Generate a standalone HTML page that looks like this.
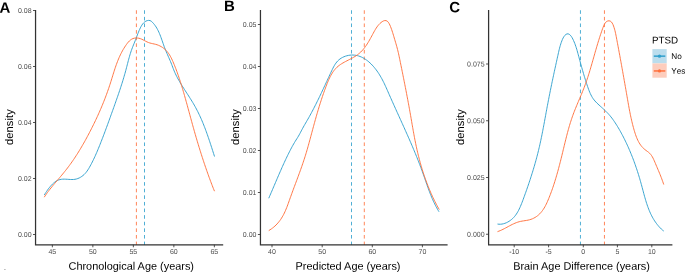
<!DOCTYPE html>
<html lang="en"><head><meta charset="utf-8"><title>Density plots</title>
<style>
html,body{margin:0;padding:0;background:#fff;}
body{width:685px;height:272px;overflow:hidden;}
svg{display:block;text-rendering:geometricPrecision;font-family:"Liberation Sans", Arial, Helvetica, sans-serif;}
.tick{fill:#4D4D4D;font-size:7px;}
.xtick{fill:#4D4D4D;font-size:7px;}
.title{fill:#000;font-size:10.92px;}
.lab{fill:#000;font-size:15px;font-weight:bold;}
.leg{fill:#000;font-size:8.2px;font-kerning:none;}
.legt{fill:#000;font-size:9.8px;}
.curve{fill:none;stroke-width:0.95;stroke-linejoin:round;}
.vl{fill:none;stroke-width:0.85;stroke-dasharray:3.6 3.01;}
.ax{stroke:#333333;stroke-width:1.25;fill:none;}
.tk{stroke:#333333;stroke-width:0.85;fill:none;}
#wrap{width:685px;height:272px;will-change:transform;background:#fff;}
</style></head><body><div id="wrap">
<svg width="685" height="272" viewBox="0 0 685 272">
<rect x="0" y="0" width="685" height="272" fill="#ffffff"/>
<g id="panel-A">
<line class="vl" x1="136.4" y1="10.25" x2="136.4" y2="245" stroke="#FF703C"/>
<line class="vl" x1="144.5" y1="10.25" x2="144.5" y2="245" stroke="#30A0CD"/>
<path class="curve" stroke="#30A0CD" d="M44.25,195.01 L45.01,193.85 L45.80,192.65 L46.62,191.41 L47.48,190.16 L48.38,188.90 L49.33,187.65 L50.32,186.44 L51.35,185.26 L52.42,184.15 L53.55,183.11 L54.72,182.16 L55.93,181.32 L57.20,180.59 L58.51,180.01 L59.88,179.58 L61.30,179.31 L62.76,179.17 L64.25,179.15 L65.77,179.20 L67.31,179.29 L68.86,179.40 L70.41,179.49 L71.95,179.52 L73.47,179.47 L74.96,179.30 L76.42,178.99 L77.84,178.54 L79.21,177.96 L80.52,177.26 L81.78,176.45 L82.98,175.54 L84.11,174.55 L85.16,173.47 L86.13,172.33 L87.04,171.13 L87.89,169.89 L88.69,168.61 L89.46,167.30 L90.20,165.98 L90.92,164.66 L91.62,163.32 L92.31,161.99 L92.98,160.64 L93.63,159.29 L94.27,157.94 L94.90,156.58 L95.52,155.21 L96.12,153.85 L96.72,152.48 L97.31,151.10 L97.88,149.72 L98.45,148.34 L99.02,146.96 L99.58,145.58 L100.13,144.19 L100.68,142.80 L101.23,141.41 L101.77,140.02 L102.31,138.63 L102.85,137.23 L103.38,135.83 L103.91,134.44 L104.44,133.04 L104.97,131.64 L105.49,130.23 L106.01,128.83 L106.53,127.42 L107.05,126.02 L107.57,124.61 L108.08,123.20 L108.59,121.79 L109.11,120.38 L109.62,118.97 L110.13,117.55 L110.64,116.14 L111.14,114.72 L111.65,113.31 L112.16,111.89 L112.67,110.47 L113.18,109.05 L113.69,107.63 L114.19,106.21 L114.70,104.79 L115.21,103.37 L115.71,101.95 L116.21,100.52 L116.71,99.10 L117.21,97.68 L117.70,96.25 L118.19,94.83 L118.68,93.40 L119.16,91.97 L119.64,90.55 L120.12,89.12 L120.59,87.69 L121.05,86.27 L121.51,84.84 L121.97,83.41 L122.42,81.98 L122.86,80.55 L123.29,79.13 L123.72,77.70 L124.14,76.27 L124.56,74.84 L124.97,73.41 L125.36,71.98 L125.75,70.56 L126.13,69.13 L126.51,67.70 L126.88,66.27 L127.24,64.85 L127.61,63.42 L127.98,61.99 L128.35,60.57 L128.73,59.14 L129.13,57.72 L129.53,56.29 L129.95,54.87 L130.39,53.44 L130.84,52.02 L131.32,50.60 L131.83,49.17 L132.36,47.75 L132.92,46.33 L133.49,44.91 L134.08,43.49 L134.65,42.07 L135.22,40.65 L135.77,39.23 L136.30,37.81 L136.83,36.39 L137.36,34.98 L137.90,33.56 L138.47,32.14 L139.05,30.73 L139.68,29.31 L140.34,27.90 L141.06,26.51 L141.84,25.18 L142.71,23.94 L143.66,22.83 L144.73,21.88 L145.91,21.13 L147.23,20.62 L148.65,20.39 L150.06,20.57 L151.31,21.25 L152.42,22.27 L153.43,23.38 L154.38,24.54 L155.26,25.73 L156.08,26.95 L156.85,28.21 L157.56,29.50 L158.23,30.81 L158.86,32.15 L159.45,33.51 L160.02,34.89 L160.56,36.28 L161.08,37.69 L161.59,39.11 L162.09,40.54 L162.59,41.97 L163.08,43.41 L163.59,44.85 L164.10,46.29 L164.64,47.72 L165.19,49.14 L165.77,50.56 L166.36,51.97 L166.96,53.38 L167.56,54.77 L168.17,56.17 L168.78,57.55 L169.38,58.93 L169.98,60.30 L170.55,61.67 L171.11,63.03 L171.65,64.39 L172.17,65.74 L172.67,67.09 L173.18,68.43 L173.70,69.77 L174.24,71.10 L174.81,72.44 L175.41,73.76 L176.05,75.09 L176.71,76.41 L177.40,77.72 L178.12,79.04 L178.86,80.35 L179.61,81.66 L180.39,82.97 L181.18,84.28 L181.98,85.58 L182.80,86.88 L183.63,88.18 L184.46,89.49 L185.30,90.79 L186.14,92.08 L186.98,93.38 L187.82,94.68 L188.66,95.98 L189.49,97.28 L190.32,98.58 L191.13,99.88 L191.94,101.18 L192.73,102.49 L193.50,103.79 L194.26,105.09 L194.99,106.40 L195.71,107.71 L196.42,109.02 L197.10,110.34 L197.77,111.65 L198.43,112.97 L199.07,114.30 L199.70,115.62 L200.31,116.95 L200.91,118.29 L201.50,119.62 L202.08,120.96 L202.64,122.31 L203.20,123.66 L203.74,125.02 L204.28,126.38 L204.81,127.74 L205.33,129.12 L205.84,130.49 L206.35,131.88 L206.85,133.26 L207.35,134.66 L207.84,136.06 L208.32,137.47 L208.81,138.89 L209.29,140.31 L209.76,141.74 L210.24,143.18 L210.71,144.63 L211.19,146.08 L211.66,147.54 L212.14,149.02 L212.61,150.50 L213.09,151.99 L213.57,153.48 L214.06,154.99 L214.50,156.51"/>
<path class="curve" stroke="#FF703C" d="M44.25,197.19 L44.98,196.05 L45.75,194.91 L46.55,193.77 L47.37,192.62 L48.23,191.47 L49.10,190.32 L50.01,189.17 L50.93,188.01 L51.87,186.86 L52.82,185.70 L53.79,184.53 L54.77,183.37 L55.76,182.20 L56.76,181.03 L57.76,179.86 L58.76,178.68 L59.76,177.50 L60.77,176.32 L61.76,175.14 L62.75,173.95 L63.73,172.76 L64.70,171.56 L65.66,170.37 L66.60,169.17 L67.52,167.96 L68.44,166.76 L69.34,165.55 L70.23,164.33 L71.10,163.11 L71.97,161.89 L72.82,160.67 L73.66,159.44 L74.49,158.21 L75.31,156.97 L76.12,155.73 L76.92,154.49 L77.71,153.24 L78.49,151.99 L79.26,150.74 L80.03,149.48 L80.79,148.21 L81.53,146.94 L82.28,145.67 L83.01,144.39 L83.74,143.11 L84.47,141.83 L85.19,140.54 L85.90,139.24 L86.61,137.94 L87.31,136.64 L88.01,135.33 L88.71,134.02 L89.40,132.70 L90.09,131.38 L90.77,130.05 L91.45,128.72 L92.12,127.38 L92.79,126.04 L93.46,124.70 L94.12,123.35 L94.77,122.00 L95.42,120.65 L96.06,119.29 L96.70,117.92 L97.33,116.56 L97.96,115.19 L98.58,113.81 L99.19,112.44 L99.80,111.06 L100.40,109.67 L101.00,108.29 L101.59,106.90 L102.17,105.51 L102.74,104.11 L103.31,102.72 L103.87,101.31 L104.43,99.91 L104.97,98.51 L105.51,97.10 L106.04,95.69 L106.57,94.28 L107.08,92.86 L107.59,91.45 L108.09,90.03 L108.58,88.61 L109.07,87.18 L109.54,85.76 L110.01,84.33 L110.47,82.91 L110.92,81.48 L111.36,80.05 L111.81,78.62 L112.25,77.19 L112.69,75.77 L113.13,74.34 L113.58,72.92 L114.03,71.50 L114.48,70.08 L114.95,68.67 L115.42,67.26 L115.90,65.86 L116.40,64.46 L116.91,63.07 L117.44,61.69 L117.98,60.31 L118.54,58.94 L119.12,57.58 L119.73,56.22 L120.36,54.88 L121.01,53.54 L121.69,52.22 L122.40,50.90 L123.14,49.60 L123.91,48.31 L124.71,47.03 L125.55,45.76 L126.42,44.51 L127.33,43.28 L128.30,42.10 L129.33,41.01 L130.44,40.03 L131.63,39.21 L132.93,38.57 L134.34,38.16 L135.85,37.97 L137.38,38.00 L138.89,38.23 L140.33,38.64 L141.71,39.19 L143.05,39.84 L144.37,40.54 L145.69,41.24 L147.04,41.91 L148.41,42.50 L149.81,42.98 L151.25,43.35 L152.71,43.68 L154.17,43.99 L155.63,44.34 L157.08,44.78 L158.50,45.31 L159.89,45.94 L161.24,46.66 L162.53,47.46 L163.76,48.34 L164.91,49.30 L165.98,50.32 L166.98,51.40 L167.91,52.54 L168.77,53.73 L169.58,54.97 L170.33,56.25 L171.04,57.55 L171.71,58.89 L172.34,60.25 L172.95,61.62 L173.54,63.01 L174.12,64.40 L174.68,65.80 L175.23,67.20 L175.77,68.59 L176.30,70.00 L176.82,71.40 L177.33,72.81 L177.83,74.22 L178.33,75.63 L178.81,77.04 L179.29,78.46 L179.76,79.87 L180.22,81.29 L180.67,82.71 L181.12,84.13 L181.57,85.56 L182.00,86.98 L182.43,88.41 L182.86,89.84 L183.28,91.27 L183.70,92.70 L184.12,94.14 L184.53,95.57 L184.93,97.00 L185.34,98.44 L185.74,99.88 L186.14,101.32 L186.54,102.76 L186.94,104.20 L187.33,105.64 L187.73,107.08 L188.12,108.52 L188.51,109.96 L188.91,111.41 L189.30,112.85 L189.69,114.30 L190.08,115.74 L190.47,117.19 L190.87,118.63 L191.26,120.08 L191.66,121.52 L192.05,122.97 L192.45,124.42 L192.85,125.86 L193.26,127.31 L193.66,128.75 L194.07,130.20 L194.48,131.64 L194.89,133.09 L195.30,134.53 L195.72,135.97 L196.14,137.42 L196.57,138.86 L196.99,140.30 L197.42,141.74 L197.85,143.18 L198.29,144.62 L198.72,146.06 L199.17,147.49 L199.61,148.93 L200.06,150.37 L200.51,151.80 L200.96,153.23 L201.41,154.66 L201.87,156.09 L202.33,157.52 L202.80,158.95 L203.27,160.37 L203.74,161.80 L204.21,163.22 L204.69,164.64 L205.17,166.06 L205.66,167.47 L206.15,168.89 L206.64,170.30 L207.14,171.71 L207.63,173.12 L208.14,174.52 L208.64,175.93 L209.15,177.33 L209.67,178.73 L210.18,180.12 L210.70,181.52 L211.23,182.91 L211.76,184.30 L212.29,185.68 L212.82,187.07 L213.36,188.45 L213.91,189.82 L214.50,191.20"/>
<path class="ax" d="M35.55,10.0 V244.75 H223.2"/>
<line class="tk" x1="33.0" y1="234.5" x2="35.55" y2="234.5"/>
<text class="tick" transform="translate(31.55,237.00) rotate(0.03)" text-anchor="end">0.00</text>
<line class="tk" x1="33.0" y1="178.5" x2="35.55" y2="178.5"/>
<text class="tick" transform="translate(31.55,181.00) rotate(0.03)" text-anchor="end">0.02</text>
<line class="tk" x1="33.0" y1="122.5" x2="35.55" y2="122.5"/>
<text class="tick" transform="translate(31.55,125.00) rotate(0.03)" text-anchor="end">0.04</text>
<line class="tk" x1="33.0" y1="66.5" x2="35.55" y2="66.5"/>
<text class="tick" transform="translate(31.55,69.00) rotate(0.03)" text-anchor="end">0.06</text>
<line class="tk" x1="33.0" y1="10.5" x2="35.55" y2="10.5"/>
<text class="tick" transform="translate(31.55,13.00) rotate(0.03)" text-anchor="end">0.08</text>
<line class="tk" x1="52.35" y1="244.75" x2="52.35" y2="247.3"/>
<text class="xtick" transform="translate(52.35,253.9) rotate(0.03)" text-anchor="middle">45</text>
<line class="tk" x1="92.85" y1="244.75" x2="92.85" y2="247.3"/>
<text class="xtick" transform="translate(92.85,253.9) rotate(0.03)" text-anchor="middle">50</text>
<line class="tk" x1="133.35" y1="244.75" x2="133.35" y2="247.3"/>
<text class="xtick" transform="translate(133.35,253.9) rotate(0.03)" text-anchor="middle">55</text>
<line class="tk" x1="173.85" y1="244.75" x2="173.85" y2="247.3"/>
<text class="xtick" transform="translate(173.85,253.9) rotate(0.03)" text-anchor="middle">60</text>
<line class="tk" x1="214.35" y1="244.75" x2="214.35" y2="247.3"/>
<text class="xtick" transform="translate(214.35,253.9) rotate(0.03)" text-anchor="middle">65</text>
<text class="title" transform="translate(68.50,269.7) rotate(0.03)">Chronological Age (years)</text>
<text class="title" style="font-size:11.1px" transform="translate(12.5,144.9) rotate(-90)" textLength="35.6">density</text>
<text class="lab" transform="translate(-0.5,12.65) rotate(0.03)">A</text>
</g>
<g id="panel-B">
<line class="vl" x1="351.5" y1="10.25" x2="351.5" y2="245" stroke="#30A0CD"/>
<line class="vl" x1="364.3" y1="10.25" x2="364.3" y2="245" stroke="#FF703C"/>
<path class="curve" stroke="#30A0CD" d="M268.75,198.26 L269.36,196.81 L269.99,195.37 L270.61,193.93 L271.23,192.50 L271.85,191.08 L272.46,189.66 L273.06,188.25 L273.66,186.84 L274.26,185.44 L274.86,184.04 L275.45,182.65 L276.04,181.27 L276.63,179.89 L277.22,178.51 L277.80,177.14 L278.39,175.78 L278.98,174.42 L279.57,173.06 L280.16,171.71 L280.75,170.36 L281.34,169.01 L281.93,167.67 L282.53,166.33 L283.13,165.00 L283.74,163.66 L284.35,162.34 L284.96,161.01 L285.58,159.69 L286.21,158.36 L286.84,157.05 L287.48,155.73 L288.13,154.41 L288.78,153.10 L289.44,151.79 L290.11,150.48 L290.79,149.17 L291.48,147.86 L292.18,146.56 L292.90,145.25 L293.65,143.95 L294.41,142.65 L295.21,141.34 L296.03,140.04 L296.85,138.74 L297.66,137.43 L298.45,136.13 L299.19,134.83 L299.90,133.52 L300.59,132.22 L301.27,130.91 L301.96,129.60 L302.66,128.30 L303.38,126.99 L304.12,125.68 L304.87,124.36 L305.64,123.05 L306.41,121.73 L307.17,120.42 L307.93,119.10 L308.69,117.77 L309.43,116.45 L310.16,115.12 L310.89,113.79 L311.60,112.46 L312.31,111.13 L313.02,109.80 L313.71,108.46 L314.40,107.12 L315.09,105.78 L315.76,104.44 L316.43,103.10 L317.10,101.76 L317.76,100.42 L318.42,99.08 L319.07,97.73 L319.72,96.39 L320.36,95.04 L321.00,93.69 L321.64,92.35 L322.28,91.00 L322.91,89.65 L323.54,88.31 L324.17,86.96 L324.79,85.61 L325.42,84.27 L326.04,82.92 L326.66,81.57 L327.29,80.23 L327.91,78.88 L328.53,77.54 L329.16,76.20 L329.78,74.85 L330.41,73.51 L331.03,72.17 L331.66,70.83 L332.30,69.50 L332.94,68.17 L333.62,66.86 L334.33,65.58 L335.09,64.34 L335.91,63.14 L336.79,62.00 L337.76,60.92 L338.81,59.91 L339.96,58.99 L341.21,58.15 L342.54,57.41 L343.94,56.76 L345.40,56.20 L346.89,55.76 L348.41,55.41 L349.94,55.17 L351.46,55.05 L352.95,55.03 L354.43,55.13 L355.88,55.32 L357.30,55.62 L358.70,56.01 L360.07,56.49 L361.42,57.05 L362.73,57.69 L364.02,58.41 L365.28,59.20 L366.52,60.05 L367.72,60.96 L368.89,61.93 L370.03,62.94 L371.13,64.01 L372.21,65.11 L373.25,66.25 L374.26,67.42 L375.23,68.62 L376.17,69.83 L377.07,71.07 L377.94,72.31 L378.77,73.57 L379.57,74.83 L380.33,76.10 L381.07,77.38 L381.79,78.67 L382.48,79.96 L383.15,81.27 L383.80,82.57 L384.43,83.89 L385.06,85.21 L385.67,86.54 L386.27,87.87 L386.87,89.21 L387.46,90.55 L388.05,91.90 L388.64,93.26 L389.24,94.61 L389.84,95.97 L390.44,97.34 L391.05,98.71 L391.66,100.08 L392.27,101.45 L392.89,102.83 L393.51,104.20 L394.13,105.58 L394.75,106.96 L395.37,108.34 L396.00,109.73 L396.62,111.11 L397.25,112.49 L397.88,113.88 L398.50,115.26 L399.13,116.64 L399.75,118.02 L400.38,119.40 L401.01,120.78 L401.63,122.16 L402.25,123.53 L402.87,124.90 L403.49,126.27 L404.11,127.64 L404.72,129.01 L405.34,130.38 L405.95,131.74 L406.56,133.11 L407.17,134.47 L407.77,135.84 L408.37,137.20 L408.97,138.57 L409.57,139.93 L410.17,141.29 L410.76,142.66 L411.35,144.02 L411.93,145.39 L412.52,146.75 L413.10,148.12 L413.67,149.49 L414.25,150.86 L414.82,152.23 L415.38,153.60 L415.94,154.97 L416.50,156.35 L417.06,157.73 L417.61,159.11 L418.15,160.49 L418.70,161.87 L419.23,163.26 L419.77,164.65 L420.29,166.05 L420.82,167.44 L421.34,168.84 L421.85,170.25 L422.36,171.66 L422.87,173.07 L423.37,174.48 L423.86,175.90 L424.36,177.32 L424.85,178.74 L425.34,180.17 L425.83,181.59 L426.33,183.01 L426.83,184.43 L427.33,185.85 L427.84,187.27 L428.35,188.69 L428.87,190.10 L429.40,191.51 L429.93,192.92 L430.48,194.31 L431.04,195.71 L431.61,197.09 L432.19,198.47 L432.79,199.84 L433.41,201.21 L434.04,202.56 L434.69,203.90 L435.35,205.24 L436.04,206.56 L436.75,207.87 L437.48,209.17 L438.23,210.46 L439.00,211.73"/>
<path class="curve" stroke="#FF703C" d="M268.75,230.62 L270.04,229.79 L271.35,228.92 L272.60,228.00 L273.80,227.05 L274.94,226.05 L276.03,225.02 L277.06,223.95 L278.04,222.85 L278.98,221.72 L279.87,220.55 L280.72,219.36 L281.52,218.14 L282.28,216.89 L283.01,215.63 L283.69,214.33 L284.35,213.02 L284.97,211.69 L285.57,210.34 L286.14,208.98 L286.70,207.61 L287.24,206.22 L287.76,204.82 L288.27,203.42 L288.78,202.01 L289.28,200.59 L289.78,199.17 L290.28,197.75 L290.79,196.33 L291.30,194.91 L291.82,193.49 L292.34,192.07 L292.86,190.65 L293.39,189.23 L293.92,187.81 L294.45,186.40 L294.98,184.98 L295.51,183.56 L296.04,182.14 L296.57,180.72 L297.10,179.31 L297.63,177.89 L298.15,176.47 L298.67,175.05 L299.19,173.64 L299.71,172.22 L300.22,170.80 L300.73,169.38 L301.23,167.97 L301.73,166.55 L302.23,165.13 L302.71,163.71 L303.20,162.29 L303.67,160.87 L304.14,159.45 L304.60,158.03 L305.05,156.61 L305.49,155.19 L305.93,153.77 L306.36,152.35 L306.78,150.93 L307.20,149.51 L307.61,148.08 L308.01,146.66 L308.41,145.24 L308.81,143.81 L309.20,142.39 L309.59,140.96 L309.97,139.53 L310.36,138.11 L310.74,136.68 L311.12,135.25 L311.51,133.82 L311.89,132.39 L312.27,130.96 L312.66,129.52 L313.04,128.09 L313.43,126.66 L313.82,125.22 L314.22,123.78 L314.61,122.35 L315.01,120.91 L315.41,119.47 L315.82,118.04 L316.23,116.60 L316.64,115.16 L317.05,113.72 L317.47,112.28 L317.90,110.84 L318.33,109.41 L318.76,107.97 L319.20,106.53 L319.65,105.09 L320.10,103.65 L320.56,102.22 L321.02,100.78 L321.49,99.34 L321.96,97.91 L322.45,96.47 L322.93,95.04 L323.43,93.60 L323.93,92.17 L324.44,90.74 L324.96,89.31 L325.49,87.88 L326.02,86.45 L326.57,85.02 L327.12,83.60 L327.69,82.19 L328.28,80.78 L328.89,79.40 L329.52,78.03 L330.19,76.68 L330.89,75.37 L331.62,74.08 L332.39,72.83 L333.21,71.62 L334.07,70.45 L334.99,69.33 L335.96,68.26 L336.98,67.24 L338.07,66.28 L339.22,65.38 L340.42,64.53 L341.67,63.72 L342.95,62.95 L344.27,62.21 L345.61,61.49 L346.96,60.79 L348.33,60.09 L349.69,59.39 L351.04,58.69 L352.38,57.97 L353.70,57.23 L354.99,56.47 L356.23,55.66 L357.44,54.82 L358.59,53.92 L359.70,52.99 L360.76,52.00 L361.79,50.98 L362.77,49.91 L363.72,48.79 L364.63,47.64 L365.52,46.45 L366.37,45.22 L367.20,43.95 L368.01,42.65 L368.79,41.33 L369.56,40.00 L370.31,38.65 L371.06,37.29 L371.79,35.94 L372.52,34.58 L373.24,33.24 L373.96,31.91 L374.69,30.61 L375.44,29.33 L376.22,28.08 L377.04,26.88 L377.92,25.71 L378.87,24.60 L379.89,23.54 L381.01,22.54 L382.21,21.64 L383.49,20.94 L384.80,20.56 L386.10,20.61 L387.29,21.19 L388.29,22.26 L389.15,23.59 L389.88,25.05 L390.52,26.57 L391.10,28.08 L391.63,29.55 L392.13,31.00 L392.59,32.43 L393.03,33.84 L393.46,35.24 L393.87,36.64 L394.28,38.04 L394.70,39.45 L395.12,40.86 L395.54,42.28 L395.96,43.71 L396.37,45.14 L396.78,46.57 L397.17,48.02 L397.54,49.46 L397.90,50.91 L398.25,52.37 L398.58,53.82 L398.90,55.28 L399.21,56.75 L399.52,58.21 L399.82,59.68 L400.12,61.14 L400.42,62.61 L400.71,64.08 L401.01,65.55 L401.31,67.01 L401.61,68.48 L401.91,69.95 L402.20,71.42 L402.50,72.89 L402.79,74.36 L403.09,75.83 L403.38,77.31 L403.68,78.78 L403.97,80.25 L404.26,81.72 L404.55,83.19 L404.84,84.67 L405.13,86.14 L405.42,87.61 L405.71,89.09 L405.99,90.56 L406.28,92.03 L406.56,93.51 L406.84,94.98 L407.12,96.45 L407.40,97.93 L407.68,99.40 L407.96,100.87 L408.23,102.35 L408.50,103.82 L408.77,105.29 L409.04,106.77 L409.31,108.24 L409.58,109.71 L409.84,111.19 L410.10,112.66 L410.36,114.13 L410.62,115.60 L410.88,117.08 L411.13,118.55 L411.38,120.02 L411.64,121.49 L411.89,122.96 L412.14,124.43 L412.40,125.90 L412.65,127.37 L412.91,128.84 L413.17,130.31 L413.43,131.78 L413.69,133.25 L413.96,134.71 L414.23,136.18 L414.50,137.65 L414.78,139.11 L415.07,140.58 L415.36,142.04 L415.66,143.50 L415.96,144.97 L416.27,146.43 L416.59,147.89 L416.91,149.35 L417.24,150.81 L417.58,152.27 L417.93,153.73 L418.28,155.18 L418.65,156.64 L419.02,158.09 L419.40,159.54 L419.78,160.99 L420.18,162.44 L420.58,163.89 L421.00,165.33 L421.42,166.77 L421.84,168.21 L422.28,169.64 L422.73,171.08 L423.18,172.50 L423.65,173.93 L424.12,175.35 L424.61,176.77 L425.10,178.19 L425.60,179.60 L426.11,181.01 L426.63,182.42 L427.16,183.82 L427.70,185.22 L428.25,186.61 L428.81,188.00 L429.38,189.38 L429.96,190.76 L430.55,192.14 L431.15,193.51 L431.76,194.87 L432.38,196.23 L433.01,197.58 L433.66,198.93 L434.31,200.28 L434.97,201.61 L435.65,202.95 L436.34,204.27 L437.03,205.59 L437.74,206.91 L438.46,208.21 L439.25,209.51"/>
<path class="ax" d="M260.45,10.0 V244.75 H447.6"/>
<line class="tk" x1="257.9" y1="234.5" x2="260.45" y2="234.5"/>
<text class="tick" transform="translate(256.45,237.00) rotate(0.03)" text-anchor="end">0.00</text>
<line class="tk" x1="257.9" y1="192.5" x2="260.45" y2="192.5"/>
<text class="tick" transform="translate(256.45,195.00) rotate(0.03)" text-anchor="end">0.01</text>
<line class="tk" x1="257.9" y1="150.5" x2="260.45" y2="150.5"/>
<text class="tick" transform="translate(256.45,153.00) rotate(0.03)" text-anchor="end">0.02</text>
<line class="tk" x1="257.9" y1="108.5" x2="260.45" y2="108.5"/>
<text class="tick" transform="translate(256.45,111.00) rotate(0.03)" text-anchor="end">0.03</text>
<line class="tk" x1="257.9" y1="66.5" x2="260.45" y2="66.5"/>
<text class="tick" transform="translate(256.45,69.00) rotate(0.03)" text-anchor="end">0.04</text>
<line class="tk" x1="257.9" y1="24.5" x2="260.45" y2="24.5"/>
<text class="tick" transform="translate(256.45,27.00) rotate(0.03)" text-anchor="end">0.05</text>
<line class="tk" x1="272" y1="244.75" x2="272" y2="247.3"/>
<text class="xtick" transform="translate(272,253.9) rotate(0.03)" text-anchor="middle">40</text>
<line class="tk" x1="322.2" y1="244.75" x2="322.2" y2="247.3"/>
<text class="xtick" transform="translate(322.2,253.9) rotate(0.03)" text-anchor="middle">50</text>
<line class="tk" x1="372.3" y1="244.75" x2="372.3" y2="247.3"/>
<text class="xtick" transform="translate(372.3,253.9) rotate(0.03)" text-anchor="middle">60</text>
<line class="tk" x1="422.4" y1="244.75" x2="422.4" y2="247.3"/>
<text class="xtick" transform="translate(422.4,253.9) rotate(0.03)" text-anchor="middle">70</text>
<text class="title" transform="translate(295.60,269.7) rotate(0.03)">Predicted Age (years)</text>
<text class="title" style="font-size:11.1px" transform="translate(238.6,144.9) rotate(-90)" textLength="35.6">density</text>
<text class="lab" transform="translate(223.9,10.9) rotate(0.03)">B</text>
</g>
<g id="panel-C">
<line class="vl" x1="580.45" y1="10.25" x2="580.45" y2="245" stroke="#30A0CD"/>
<line class="vl" x1="604.45" y1="10.25" x2="604.45" y2="245" stroke="#FF703C"/>
<path class="curve" stroke="#30A0CD" d="M497.50,224.06 L498.99,224.23 L500.48,224.23 L501.97,224.07 L503.45,223.76 L504.90,223.32 L506.32,222.75 L507.71,222.08 L509.04,221.30 L510.31,220.44 L511.52,219.51 L512.65,218.52 L513.69,217.47 L514.66,216.38 L515.56,215.25 L516.39,214.07 L517.17,212.86 L517.89,211.61 L518.58,210.34 L519.23,209.03 L519.85,207.70 L520.44,206.35 L521.02,204.98 L521.59,203.59 L522.14,202.19 L522.68,200.77 L523.21,199.36 L523.73,197.93 L524.25,196.51 L524.76,195.09 L525.28,193.66 L525.79,192.23 L526.29,190.81 L526.79,189.38 L527.29,187.95 L527.78,186.52 L528.27,185.10 L528.76,183.67 L529.24,182.24 L529.72,180.80 L530.19,179.37 L530.65,177.94 L531.12,176.51 L531.57,175.07 L532.03,173.64 L532.47,172.21 L532.91,170.77 L533.35,169.33 L533.78,167.90 L534.21,166.46 L534.63,165.02 L535.04,163.58 L535.45,162.14 L535.85,160.70 L536.24,159.26 L536.63,157.81 L537.01,156.37 L537.39,154.93 L537.76,153.48 L538.12,152.04 L538.48,150.59 L538.82,149.14 L539.17,147.70 L539.50,146.25 L539.83,144.80 L540.15,143.35 L540.47,141.89 L540.78,140.44 L541.09,138.99 L541.39,137.53 L541.69,136.08 L541.98,134.62 L542.27,133.17 L542.56,131.71 L542.84,130.25 L543.12,128.79 L543.40,127.33 L543.67,125.87 L543.95,124.41 L544.22,122.94 L544.49,121.48 L544.76,120.01 L545.03,118.55 L545.30,117.08 L545.57,115.61 L545.84,114.14 L546.10,112.67 L546.38,111.20 L546.65,109.73 L546.92,108.25 L547.20,106.78 L547.47,105.30 L547.75,103.83 L548.04,102.35 L548.32,100.87 L548.61,99.39 L548.90,97.91 L549.19,96.43 L549.48,94.95 L549.78,93.47 L550.07,91.99 L550.37,90.51 L550.67,89.03 L550.98,87.55 L551.28,86.07 L551.59,84.59 L551.89,83.12 L552.20,81.64 L552.51,80.17 L552.82,78.69 L553.13,77.22 L553.45,75.75 L553.76,74.28 L554.07,72.81 L554.39,71.35 L554.70,69.88 L555.02,68.42 L555.34,66.97 L555.66,65.51 L555.97,64.06 L556.29,62.61 L556.61,61.16 L556.93,59.71 L557.24,58.27 L557.56,56.83 L557.88,55.40 L558.20,53.97 L558.52,52.54 L558.84,51.12 L559.18,49.69 L559.53,48.25 L559.91,46.81 L560.33,45.36 L560.78,43.89 L561.29,42.41 L561.84,40.90 L562.46,39.39 L563.15,37.93 L563.94,36.59 L564.83,35.42 L565.84,34.49 L566.97,33.90 L568.15,33.85 L569.29,34.35 L570.32,35.21 L571.25,36.33 L572.09,37.65 L572.85,39.08 L573.54,40.54 L574.18,42.00 L574.77,43.45 L575.31,44.89 L575.81,46.32 L576.28,47.75 L576.72,49.18 L577.14,50.60 L577.54,52.03 L577.92,53.45 L578.31,54.87 L578.69,56.29 L579.07,57.71 L579.45,59.13 L579.84,60.55 L580.22,61.97 L580.61,63.40 L581.00,64.82 L581.40,66.25 L581.80,67.68 L582.20,69.11 L582.61,70.54 L583.02,71.98 L583.44,73.41 L583.87,74.85 L584.30,76.29 L584.74,77.73 L585.19,79.17 L585.65,80.62 L586.11,82.07 L586.59,83.52 L587.07,84.97 L587.57,86.43 L588.07,87.89 L588.60,89.34 L589.14,90.78 L589.71,92.20 L590.32,93.60 L590.97,94.96 L591.66,96.28 L592.40,97.54 L593.20,98.75 L594.06,99.90 L594.97,100.99 L595.94,102.05 L596.94,103.07 L597.99,104.06 L599.06,105.05 L600.16,106.04 L601.28,107.04 L602.40,108.06 L603.53,109.09 L604.66,110.15 L605.78,111.23 L606.87,112.32 L607.94,113.43 L608.98,114.56 L609.97,115.70 L610.92,116.87 L611.84,118.04 L612.72,119.23 L613.58,120.44 L614.42,121.65 L615.23,122.89 L616.04,124.13 L616.83,125.38 L617.60,126.65 L618.37,127.92 L619.13,129.21 L619.87,130.50 L620.60,131.81 L621.32,133.12 L622.03,134.44 L622.73,135.76 L623.41,137.09 L624.09,138.43 L624.76,139.77 L625.41,141.11 L626.06,142.46 L626.69,143.81 L627.32,145.17 L627.94,146.53 L628.55,147.89 L629.15,149.26 L629.73,150.63 L630.31,152.00 L630.89,153.38 L631.45,154.76 L632.00,156.15 L632.55,157.54 L633.08,158.93 L633.61,160.32 L634.13,161.72 L634.64,163.13 L635.14,164.53 L635.64,165.94 L636.12,167.35 L636.60,168.77 L637.08,170.19 L637.54,171.62 L638.00,173.05 L638.44,174.48 L638.89,175.91 L639.32,177.35 L639.75,178.79 L640.17,180.24 L640.58,181.69 L640.99,183.14 L641.39,184.60 L641.79,186.06 L642.18,187.52 L642.57,188.99 L642.96,190.45 L643.35,191.91 L643.74,193.38 L644.13,194.84 L644.53,196.29 L644.94,197.75 L645.36,199.19 L645.79,200.63 L646.23,202.07 L646.69,203.50 L647.16,204.91 L647.65,206.32 L648.16,207.72 L648.69,209.11 L649.24,210.48 L649.81,211.84 L650.41,213.19 L651.04,214.52 L651.70,215.83 L652.38,217.13 L653.10,218.41 L653.85,219.67 L654.64,220.91 L655.47,222.14 L656.33,223.34 L657.23,224.51 L658.18,225.67 L659.17,226.80 L660.20,227.90 L661.28,228.98 L662.41,230.03 L663.75,231.05"/>
<path class="curve" stroke="#FF703C" d="M497.50,231.67 L498.87,231.17 L500.25,230.60 L501.62,229.99 L502.97,229.34 L504.30,228.66 L505.63,227.96 L506.96,227.25 L508.28,226.53 L509.60,225.82 L510.93,225.12 L512.26,224.44 L513.61,223.80 L514.97,223.20 L516.34,222.65 L517.74,222.16 L519.16,221.73 L520.61,221.38 L522.08,221.10 L523.57,220.87 L525.06,220.64 L526.56,220.41 L528.05,220.13 L529.52,219.78 L530.97,219.34 L532.38,218.80 L533.76,218.16 L535.08,217.44 L536.35,216.64 L537.55,215.76 L538.67,214.82 L539.73,213.82 L540.73,212.76 L541.66,211.64 L542.54,210.48 L543.37,209.28 L544.16,208.04 L544.90,206.76 L545.60,205.45 L546.27,204.12 L546.91,202.76 L547.52,201.39 L548.12,200.00 L548.70,198.61 L549.26,197.21 L549.82,195.81 L550.36,194.40 L550.89,192.99 L551.42,191.57 L551.93,190.16 L552.43,188.73 L552.92,187.31 L553.40,185.88 L553.87,184.45 L554.33,183.01 L554.79,181.58 L555.23,180.14 L555.67,178.70 L556.10,177.25 L556.53,175.81 L556.94,174.36 L557.35,172.91 L557.76,171.47 L558.16,170.02 L558.55,168.56 L558.93,167.11 L559.32,165.66 L559.69,164.21 L560.07,162.75 L560.44,161.30 L560.80,159.85 L561.16,158.40 L561.52,156.95 L561.88,155.50 L562.23,154.05 L562.58,152.60 L562.93,151.15 L563.28,149.70 L563.63,148.26 L563.98,146.82 L564.32,145.38 L564.67,143.94 L565.02,142.50 L565.37,141.07 L565.72,139.63 L566.08,138.20 L566.44,136.77 L566.81,135.34 L567.18,133.91 L567.56,132.49 L567.94,131.06 L568.33,129.64 L568.73,128.22 L569.14,126.80 L569.55,125.38 L569.98,123.96 L570.42,122.55 L570.87,121.13 L571.33,119.72 L571.80,118.30 L572.29,116.89 L572.79,115.48 L573.31,114.07 L573.84,112.66 L574.38,111.25 L574.94,109.85 L575.50,108.44 L576.08,107.03 L576.65,105.63 L577.24,104.22 L577.83,102.82 L578.42,101.42 L579.02,100.02 L579.61,98.61 L580.20,97.21 L580.79,95.81 L581.38,94.41 L581.96,93.01 L582.53,91.61 L583.09,90.21 L583.65,88.82 L584.19,87.42 L584.72,86.02 L585.23,84.62 L585.74,83.22 L586.23,81.83 L586.72,80.43 L587.19,79.03 L587.66,77.63 L588.11,76.23 L588.56,74.83 L589.00,73.43 L589.43,72.03 L589.86,70.62 L590.29,69.22 L590.70,67.81 L591.12,66.40 L591.53,64.99 L591.93,63.58 L592.34,62.17 L592.74,60.75 L593.15,59.33 L593.55,57.91 L593.95,56.49 L594.36,55.06 L594.76,53.63 L595.17,52.20 L595.59,50.76 L596.00,49.33 L596.42,47.89 L596.84,46.44 L597.27,44.99 L597.71,43.54 L598.15,42.08 L598.61,40.62 L599.06,39.16 L599.53,37.69 L600.01,36.21 L600.50,34.74 L600.99,33.25 L601.50,31.77 L602.03,30.27 L602.56,28.78 L603.11,27.28 L603.69,25.82 L604.33,24.45 L605.04,23.22 L605.84,22.19 L606.77,21.41 L607.84,20.93 L609.06,20.80 L610.27,21.11 L611.32,21.89 L612.20,23.05 L612.94,24.47 L613.56,26.03 L614.09,27.61 L614.56,29.15 L614.96,30.66 L615.32,32.15 L615.64,33.61 L615.94,35.07 L616.22,36.51 L616.49,37.96 L616.76,39.40 L617.04,40.85 L617.31,42.30 L617.58,43.76 L617.85,45.21 L618.13,46.67 L618.40,48.13 L618.67,49.59 L618.94,51.05 L619.21,52.51 L619.48,53.98 L619.75,55.44 L620.02,56.91 L620.29,58.38 L620.56,59.85 L620.83,61.32 L621.09,62.79 L621.36,64.26 L621.63,65.74 L621.89,67.21 L622.16,68.69 L622.42,70.16 L622.69,71.64 L622.95,73.11 L623.21,74.59 L623.48,76.07 L623.74,77.55 L624.00,79.03 L624.26,80.50 L624.52,81.98 L624.78,83.46 L625.04,84.94 L625.30,86.41 L625.56,87.89 L625.82,89.37 L626.07,90.84 L626.33,92.32 L626.59,93.79 L626.84,95.27 L627.09,96.74 L627.35,98.22 L627.60,99.69 L627.86,101.16 L628.11,102.63 L628.37,104.10 L628.63,105.57 L628.90,107.03 L629.17,108.50 L629.44,109.96 L629.72,111.43 L630.01,112.89 L630.30,114.35 L630.61,115.81 L630.92,117.27 L631.24,118.73 L631.57,120.18 L631.90,121.64 L632.26,123.09 L632.62,124.54 L632.99,125.99 L633.38,127.44 L633.78,128.88 L634.20,130.33 L634.63,131.77 L635.08,133.21 L635.56,134.64 L636.06,136.06 L636.59,137.46 L637.16,138.84 L637.78,140.19 L638.44,141.52 L639.16,142.80 L639.93,144.05 L640.77,145.25 L641.67,146.41 L642.65,147.51 L643.71,148.55 L644.85,149.53 L646.06,150.46 L647.31,151.36 L648.53,152.28 L649.66,153.28 L650.66,154.38 L651.54,155.56 L652.34,156.82 L653.05,158.14 L653.70,159.50 L654.32,160.88 L654.91,162.28 L655.50,163.67 L656.09,165.06 L656.68,166.44 L657.26,167.81 L657.85,169.19 L658.43,170.56 L659.00,171.93 L659.57,173.30 L660.13,174.68 L660.68,176.06 L661.22,177.45 L661.75,178.84 L662.26,180.24 L662.77,181.66 L663.26,183.08 L663.75,184.52"/>
<path class="ax" d="M488.6,10.0 V244.75 H672.4"/>
<line class="tk" x1="486.05" y1="234.25" x2="488.6" y2="234.25"/>
<text class="tick" transform="translate(484.60,236.75) rotate(0.03)" text-anchor="end">0.000</text>
<line class="tk" x1="486.05" y1="177.5" x2="488.6" y2="177.5"/>
<text class="tick" transform="translate(484.60,180.00) rotate(0.03)" text-anchor="end">0.025</text>
<line class="tk" x1="486.05" y1="120.75" x2="488.6" y2="120.75"/>
<text class="tick" transform="translate(484.60,123.25) rotate(0.03)" text-anchor="end">0.050</text>
<line class="tk" x1="486.05" y1="64" x2="488.6" y2="64"/>
<text class="tick" transform="translate(484.60,66.50) rotate(0.03)" text-anchor="end">0.075</text>
<line class="tk" x1="514.2" y1="244.75" x2="514.2" y2="247.3"/>
<text class="xtick" transform="translate(514.2,253.9) rotate(0.03)" text-anchor="middle">-10</text>
<line class="tk" x1="548.6" y1="244.75" x2="548.6" y2="247.3"/>
<text class="xtick" transform="translate(548.6,253.9) rotate(0.03)" text-anchor="middle">-5</text>
<line class="tk" x1="583.3" y1="244.75" x2="583.3" y2="247.3"/>
<text class="xtick" transform="translate(583.3,253.9) rotate(0.03)" text-anchor="middle">0</text>
<line class="tk" x1="617.4" y1="244.75" x2="617.4" y2="247.3"/>
<text class="xtick" transform="translate(617.4,253.9) rotate(0.03)" text-anchor="middle">5</text>
<line class="tk" x1="651.8" y1="244.75" x2="651.8" y2="247.3"/>
<text class="xtick" transform="translate(651.8,253.9) rotate(0.03)" text-anchor="middle">10</text>
<text class="title" transform="translate(513.15,269.7) rotate(0.03)">Brain Age Difference (years)</text>
<text class="title" style="font-size:11.1px" transform="translate(464.3,144.9) rotate(-90)" textLength="35.6">density</text>
<text class="lab" transform="translate(449.3,12.15) rotate(0.03)">C</text>
</g>
<g id="legend">
<text class="legt" transform="translate(652.0,43.4) rotate(0.03)">PTSD</text>
<rect x="652.4" y="49.1" width="14.3" height="14.3" fill="#BBDDED"/>
<rect x="652.4" y="63.4" width="14.3" height="14.3" fill="#FDCDBD"/>
<line x1="653.8" y1="56.15" x2="665.3" y2="56.15" stroke="#30A0CD" stroke-width="1.5"/>
<circle cx="659.5" cy="56.15" r="1.65" fill="#30A0CD"/>
<line x1="653.8" y1="70.95" x2="665.3" y2="70.95" stroke="#FF703C" stroke-width="1.5"/>
<circle cx="659.5" cy="70.95" r="1.65" fill="#FF703C"/>
<text class="leg" transform="translate(671.3,58.9) rotate(0.03)">No</text>
<text class="leg" transform="translate(671.3,73.8) rotate(0.03)">Yes</text>
</g>
<rect x="4.3" y="269" width="1.2" height="0.6" fill="#666"/>
</svg></div></body></html>
